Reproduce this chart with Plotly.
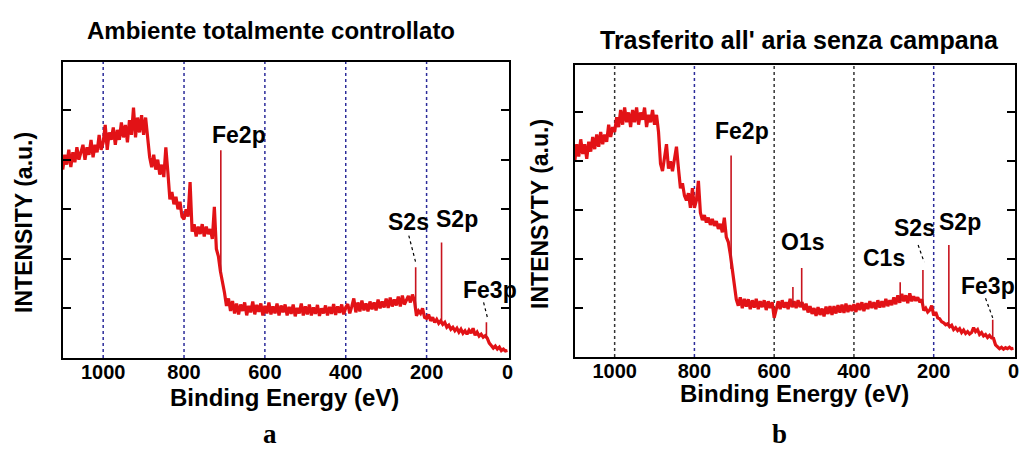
import plotly.graph_objects as go

# ---------------- data ----------------
energy = list(range(1100, -1, -5))  # binding energy sampling grid (eV)

intensity_a = [
    3.80, 4.10, 3.90, 4.20, 3.85, 4.15, 3.95, 4.25, 4.00, 4.15,
    4.30, 4.00, 4.25, 4.10, 4.40, 4.05, 4.30, 4.15, 4.50, 4.20,
    4.35, 4.70, 4.20, 4.55, 4.40, 4.65, 4.30, 4.60, 4.40, 4.75,
    4.45, 4.70, 4.35, 4.80, 4.50, 5.05, 4.45, 4.85, 4.55, 4.90,
    4.50, 4.85, 4.40, 4.05, 3.85, 4.10, 3.80, 4.00, 3.70, 3.90,
    3.65, 4.25, 3.75, 3.20, 3.35, 3.10, 3.25, 3.00, 3.15, 2.85,
    2.80, 3.00, 2.85, 3.55, 2.55, 2.70, 2.45, 2.65, 2.50, 2.70,
    2.45, 2.65, 2.50, 2.60, 2.40, 3.05, 2.20, 2.05, 1.75, 1.55,
    1.32, 1.05, 1.20, 0.95, 1.15, 0.90, 1.10, 0.88, 1.08, 0.95,
    1.12, 0.86, 1.05, 0.92, 1.14, 0.88, 1.07, 0.93, 1.10, 0.86,
    1.05, 0.90, 1.12, 0.88, 1.04, 0.90, 1.10, 0.86, 1.06, 0.92,
    1.08, 0.86, 1.03, 0.89, 1.08, 0.84, 1.01, 0.90, 1.10, 0.86,
    1.04, 0.88, 1.08, 0.86, 1.02, 0.89, 1.07, 0.85, 1.00, 0.90,
    1.06, 0.86, 1.03, 0.89, 1.09, 0.87, 1.04, 0.91, 1.08, 0.88,
    1.02, 1.09, 0.90, 1.04, 1.20, 0.92, 1.12, 0.94, 1.16, 0.96,
    1.10, 0.94, 1.14, 0.98, 1.12, 0.96, 1.18, 1.00, 1.14, 1.02,
    1.20, 1.01, 1.22, 1.04, 1.18, 1.06, 1.24, 1.04, 1.26, 1.08,
    1.18, 1.25, 1.12, 1.28, 1.15, 0.85, 0.95, 0.90, 1.00, 0.82,
    0.80, 0.88, 0.75, 0.82, 0.72, 0.78, 0.70, 0.75, 0.68, 0.72,
    0.62, 0.66, 0.58, 0.62, 0.55, 0.60, 0.52, 0.58, 0.50, 0.55,
    0.48, 0.56, 0.50, 0.60, 0.46, 0.52, 0.44, 0.48, 0.42, 0.45,
    0.40, 0.30, 0.25, 0.20, 0.24, 0.18, 0.22, 0.15, 0.18, 0.14,
    0.15,
]

intensity_b = [
    4.00, 4.35, 4.10, 4.45, 4.15, 4.35, 4.05, 4.40, 4.20, 4.50,
    4.25, 4.55, 4.30, 4.60, 4.35, 4.55, 4.40, 4.75, 4.50, 4.70,
    4.60, 4.90, 4.70, 5.05, 4.75, 5.10, 4.80, 5.00, 4.70, 5.05,
    4.80, 5.10, 4.75, 5.00, 4.85, 5.10, 4.70, 4.95, 4.80, 5.05,
    4.75, 4.95, 4.60, 3.95, 3.80, 4.05, 4.35, 3.85, 4.00, 3.80,
    4.05, 4.30, 3.85, 3.45, 3.55, 3.30, 3.20, 3.35, 3.05, 3.45,
    3.05, 3.20, 3.60, 2.95, 2.80, 2.90, 2.75, 2.85, 2.70, 2.82,
    2.68, 2.78, 2.62, 2.72, 2.55, 2.85, 2.45, 2.35, 2.10, 1.75,
    1.45, 1.18, 1.05, 1.22, 1.00, 1.19, 1.03, 1.18, 0.98, 1.16,
    1.01, 1.19, 0.98, 1.14, 1.02, 1.16, 0.96, 1.14, 1.00, 1.12,
    0.80, 1.01, 1.14, 0.98, 1.16, 1.01, 1.12, 0.98, 1.19, 1.02,
    1.14, 1.00, 1.16, 1.02, 1.12, 0.96, 1.09, 0.91, 1.04, 0.88,
    1.00, 0.84, 1.02, 0.86, 0.99, 0.83, 1.03, 0.88, 1.04, 0.86,
    1.04, 0.89, 1.06, 0.91, 1.07, 0.90, 1.09, 0.92, 1.06, 0.94,
    1.08, 0.92, 1.10, 0.96, 1.12, 0.94, 1.10, 0.98, 1.14, 1.00,
    1.12, 0.98, 1.16, 1.01, 1.14, 1.02, 1.19, 1.04, 1.16, 1.06,
    1.22, 1.08, 1.26, 1.11, 1.29, 1.14, 1.26, 1.10, 1.30, 1.14,
    1.24, 1.15, 1.22, 1.12, 1.18, 0.95, 1.00, 0.92, 0.96, 1.05,
    0.85, 0.92, 0.80, 0.78, 0.72, 0.70, 0.66, 0.68, 0.62, 0.65,
    0.56, 0.60, 0.54, 0.58, 0.50, 0.55, 0.48, 0.52, 0.47, 0.50,
    0.60, 0.52, 0.56, 0.46, 0.50, 0.43, 0.46, 0.40, 0.44, 0.39,
    0.38, 0.25, 0.20, 0.17, 0.20, 0.16, 0.19, 0.17, 0.20, 0.17,
    0.18,
]

# narrow photoemission peaks: position, local background, top
peak_e_a = [709, 227, 163, 52]
peak_base_a = [1.70, 1.00, 0.75, 0.40]
peak_top_a = [4.19, 1.83, 2.33, 0.72]

peak_e_b = [708, 553, 531, 284, 227, 162, 52]
peak_base_b = [1.80, 1.05, 1.05, 1.15, 1.05, 0.65, 0.38]
peak_top_b = [4.12, 1.43, 1.82, 1.53, 1.78, 2.29, 0.76]

# peak labels (text, energy, intensity)
labels_a = ["Fe2p", "S2s", "S2p", "Fe3p"]
label_e_a = [664, 244, 126, 44]
label_y_a = [4.49, 2.74, 2.80, 1.38]

labels_b = ["Fe2p", "O1s", "C1s", "S2s", "S2p", "Fe3p"]
label_e_b = [681, 529, 324, 249, 135, 65]
label_y_b = [4.63, 2.35, 2.02, 2.63, 2.76, 1.45]

# leader lines (x0, y0, x1, y1) in data units
leaders_a = [(244, 2.47, 227, 1.93), (59, 1.12, 49, 0.80)]
leaders_b = [(239, 2.29, 224, 1.94), (70, 1.20, 52, 0.80)]

x_ticks = [1000, 800, 600, 400, 200, 0]
x_tick_text = ["1000", "800", "600", "400", "200", "0"]
grid_e = [1000, 800, 600, 400, 200]
grid_col_a = ["#2b2b9a"] * 5
grid_col_b = ["#333333", "#2b2b9a", "#333333", "#333333", "#2b2b9a"]
y_ticks = [1, 2, 3, 4, 5]

# ---------------- figure ----------------
RED = "rgb(226,18,22)"
PEAK = "rgb(200,20,30)"
FONT = "Liberation Sans, Arial, sans-serif"

fig = go.Figure()

fig.add_trace(go.Scatter(x=energy, y=intensity_a, mode="lines",
                         line=dict(color=RED, width=3.2), xaxis="x", yaxis="y",
                         showlegend=False))
for e, b, t in zip(peak_e_a, peak_base_a, peak_top_a):
    fig.add_trace(go.Scatter(x=[e, e], y=[b, t], mode="lines",
                             line=dict(color=PEAK, width=1.6), xaxis="x", yaxis="y",
                             showlegend=False))

fig.add_trace(go.Scatter(x=energy, y=intensity_b, mode="lines",
                         line=dict(color=RED, width=3.2), xaxis="x2", yaxis="y2",
                         showlegend=False))
for e, b, t in zip(peak_e_b, peak_base_b, peak_top_b):
    fig.add_trace(go.Scatter(x=[e, e], y=[b, t], mode="lines",
                             line=dict(color=PEAK, width=1.6), xaxis="x2", yaxis="y2",
                             showlegend=False))

tickfont = dict(family=FONT, size=20, color="black", weight="bold")
xcommon = dict(range=[1100, -4], showgrid=False, zeroline=False, showline=True,
               linecolor="black", linewidth=1.5, mirror=True, ticks="",
               tickvals=x_ticks, ticktext=x_tick_text, tickfont=tickfont,
               ticklabelstandoff=-5)
ycommon = dict(range=[0, 5.97], showgrid=False, zeroline=False, showline=True,
               linecolor="black", linewidth=1.5, mirror="ticks", ticks="inside",
               ticklen=8, tickwidth=1.5, tickcolor="black", tickvals=y_ticks,
               showticklabels=False)

fig.update_layout(
    width=1026, height=451, margin=dict(l=0, r=0, t=0, b=0),
    paper_bgcolor="white", plot_bgcolor="white",
    xaxis=dict(domain=[0.0614, 0.4981], anchor="y", **xcommon),
    yaxis=dict(domain=[0.2062, 0.8625], anchor="x", **ycommon),
    xaxis2=dict(domain=[0.5624, 0.9932], anchor="y2", **xcommon),
    yaxis2=dict(domain=[0.2084, 0.8559], anchor="x2", **ycommon),
)

# gridlines
for e, c in zip(grid_e, grid_col_a):
    fig.add_shape(type="line", xref="x", yref="y domain", x0=e, x1=e, y0=0, y1=1,
                  line=dict(color=c, width=1.5, dash="dot"), layer="below")
for e, c in zip(grid_e, grid_col_b):
    fig.add_shape(type="line", xref="x2", yref="y2 domain", x0=e, x1=e, y0=0, y1=1,
                  line=dict(color=c, width=1.5, dash="dot"), layer="below")

# leader lines
for (x0, y0, x1, y1) in leaders_a:
    fig.add_shape(type="line", xref="x", yref="y", x0=x0, y0=y0, x1=x1, y1=y1,
                  line=dict(color="black", width=1.2, dash="dot"))
for (x0, y0, x1, y1) in leaders_b:
    fig.add_shape(type="line", xref="x2", yref="y2", x0=x0, y0=y0, x1=x1, y1=y1,
                  line=dict(color="black", width=1.2, dash="dot"))

lab_font = dict(family=FONT, size=23, color="black", weight="bold")
for t, e, y in zip(labels_a, label_e_a, label_y_a):
    fig.add_annotation(x=e, y=y, xref="x", yref="y", text=t, showarrow=False,
                       font=lab_font, xanchor="center", yanchor="middle")
for t, e, y in zip(labels_b, label_e_b, label_y_b):
    fig.add_annotation(x=e, y=y, xref="x2", yref="y2", text=t, showarrow=False,
                       font=lab_font, xanchor="center", yanchor="middle")

# titles and axis titles (paper coordinates)
def py(p):
    return 1 - p / 451.0

def px(p):
    return p / 1026.0

fig.add_annotation(x=px(272), y=py(30), xref="paper", yref="paper",
                   text="Ambiente totalmente controllato", showarrow=False,
                   font=dict(family=FONT, size=24, color="black", weight="bold"),
                   xanchor="center", yanchor="middle")
fig.add_annotation(x=px(803), y=py(40), xref="paper", yref="paper",
                   text="Trasferito all' aria senza campana", showarrow=False,
                   font=dict(family=FONT, size=25, color="black", weight="bold"),
                   xanchor="center", yanchor="middle")

axis_font = dict(family=FONT, size=24, color="black", weight="bold")
fig.add_annotation(x=px(286), y=py(397), xref="paper", yref="paper",
                   text="Binding Energy (eV)", showarrow=False,
                   font=axis_font, xanchor="center", yanchor="middle")
fig.add_annotation(x=px(798), y=py(393), xref="paper", yref="paper",
                   text="Binding Energy (eV)", showarrow=False,
                   font=axis_font, xanchor="center", yanchor="middle")
yt_font = dict(family=FONT, size=23, color="black", weight="bold")
fig.add_annotation(x=px(24), y=py(222), xref="paper", yref="paper",
                   text="INTENSITY (a.u.)", showarrow=False, textangle=-90,
                   font=yt_font, xanchor="center", yanchor="middle")
fig.add_annotation(x=px(542), y=py(214), xref="paper", yref="paper",
                   text="INTENSYTY (a.u.)", showarrow=False, textangle=-90,
                   font=yt_font, xanchor="center", yanchor="middle")

serif = dict(family="Liberation Serif, Times New Roman, serif", size=27,
             color="black", weight="bold")
fig.add_annotation(x=px(271), y=py(434), xref="paper", yref="paper", text="a",
                   showarrow=False, font=serif, xanchor="center", yanchor="middle")
fig.add_annotation(x=px(783), y=py(434), xref="paper", yref="paper", text="b",
                   showarrow=False, font=serif, xanchor="center", yanchor="middle")

fig.write_html("out.html")
